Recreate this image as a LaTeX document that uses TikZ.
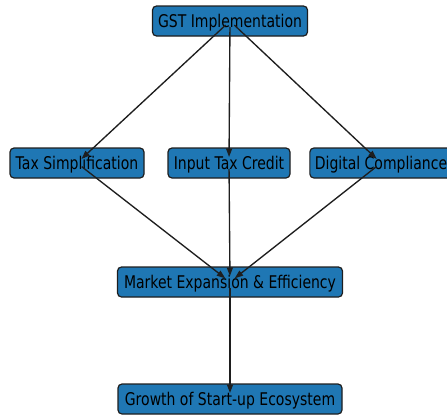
\documentclass[tikz,border=0pt]{standalone}
\usepackage{fontspec}
\setmainfont{DejaVu Sans}[FakeStretch=0.8]
\usetikzlibrary{arrows.meta}
\definecolor{boxblue}{HTML}{1F77B4}
\definecolor{edgeink}{HTML}{1E1E1E}
\tikzset{
  stage/.style={draw=edgeink, line width=1.2pt, fill=boxblue, rounded corners=4pt,
    minimum height=30pt, inner xsep=5pt, inner ysep=0pt, text=black,
    text height=16pt, text depth=3.2pt,
    font=\fontsize{17.5}{20}\selectfont},
  link/.style={draw=edgeink, line width=1.35pt,
    -{Triangle[length=8.5pt,width=6pt]},
    shorten <=6pt, shorten >=6pt}
}
\begin{document}
\begin{tikzpicture}[x=1pt,y=-1pt]
  \useasboundingbox (0,0) rectangle (447,415);
  \begin{scope}
    \clip (0,0) rectangle (447,415);
    \node[stage, minimum width=155pt] (gst) at (230,21) {GST Implementation};
    \node[stage, minimum width=134pt] (tax) at (77,163) {Tax Simplification};
    \node[stage, minimum width=122pt] (itc) at (229,163) {Input Tax Credit};
    \node[stage, minimum width=142pt] (dig) at (381,163) {Digital Compliance};
    \node[stage, minimum width=225pt] (mkt) at (230,282) {Market Expansion \& Efficiency};
    \node[stage, minimum width=224pt] (grw) at (230,399) {Growth of Start-up Ecosystem};
  \end{scope}
  \draw[link] (gst.center) -- (tax.center);
  \draw[link] (gst.center) -- (itc.center);
  \draw[link] (gst.center) -- (dig.center);
  \draw[link] (tax.center) -- (mkt.center);
  \draw[link] (itc.center) -- (mkt.center);
  \draw[link] (dig.center) -- (mkt.center);
  \draw[link] (mkt.center) -- (grw.center);
\end{tikzpicture}
\end{document}
